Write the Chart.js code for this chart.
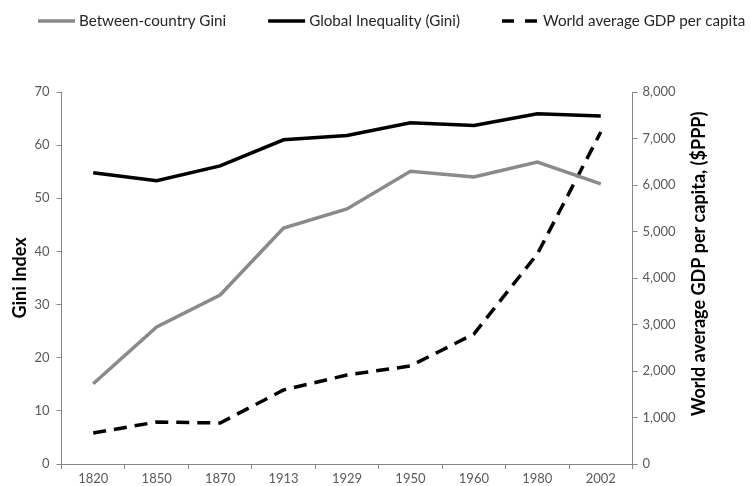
<!DOCTYPE html>
<html>
<head>
<meta charset="utf-8">
<script src="https://cdn.jsdelivr.net/npm/chart.js@4/dist/chart.umd.min.js"></script>
<style>
  html, body { margin: 0; padding: 0; background: #fff; }
</style>
</head>
<body>
<canvas id="chart" width="751" height="486"></canvas>
<script>
const years = ["1820", "1850", "1870", "1913", "1929", "1950", "1960", "1980", "2002"];
const betweenGini = [15.1, 25.8, 31.8, 44.4, 48.0, 55.1, 54.0, 56.8, 52.7];
const globalGini = [54.8, 53.3, 56.1, 61.0, 61.8, 64.2, 63.7, 65.9, 65.5];
const worldGdp = [667, 903, 882, 1591, 1914, 2108, 2796, 4516, 7140];

const axisColor = "#868686";
const textColor = "#595959";
const fontFamily = "Lato, 'Open Sans', sans-serif";
const rightTitle = "World average GDP per capita, ($PPP)";

// legend row on top, line samples like the spreadsheet one
const topLegend = {
  id: "topLegend",
  afterDraw(chart) {
    const ctx = chart.ctx;
    ctx.save();
    ctx.font = "15.2px " + fontFamily;
    ctx.textBaseline = "middle";
    let x = 38;
    const y = 21;
    chart.data.datasets.forEach((ds) => {
      ctx.beginPath();
      ctx.strokeStyle = ds.borderColor;
      ctx.lineWidth = ds.borderWidth;
      ctx.setLineDash(ds.borderDash ? [12, 11] : []);
      ctx.moveTo(x, y);
      ctx.lineTo(x + 37, y);
      ctx.stroke();
      ctx.setLineDash([]);
      ctx.fillStyle = "#262626";
      ctx.fillText(ds.label, x + 41, y);
      x += 41 + ctx.measureText(ds.label).width + 42;
    });
    ctx.restore();
  }
};

// right axis title reads bottom to top, like the left one
const rightAxisTitle = {
  id: "rightAxisTitle",
  afterDraw(chart) {
    const ctx = chart.ctx;
    const area = chart.chartArea;
    ctx.save();
    ctx.translate(chart.scales.y1.left + 67, (area.top + area.bottom) / 2 - 14);
    ctx.rotate(-Math.PI / 2);
    ctx.font = "bold 18px " + fontFamily;
    ctx.fillStyle = "#000";
    ctx.textAlign = "center";
    ctx.textBaseline = "middle";
    ctx.fillText(rightTitle, 0, 0);
    ctx.restore();
  }
};

new Chart(document.getElementById("chart"), {
  type: "line",
  data: {
    labels: years,
    datasets: [
      {
        label: "Between-country Gini",
        data: betweenGini,
        borderColor: "#8a8a8a",
        borderWidth: 3.5,
        pointRadius: 0,
        yAxisID: "y"
      },
      {
        label: "Global Inequality (Gini)",
        data: globalGini,
        borderColor: "#000000",
        borderWidth: 3.5,
        pointRadius: 0,
        yAxisID: "y"
      },
      {
        label: "World average GDP per capita",
        data: worldGdp,
        borderColor: "#000000",
        borderWidth: 3.5,
        borderDash: [13, 8],
        pointRadius: 0,
        yAxisID: "y1"
      }
    ]
  },
  options: {
    responsive: false,
    animation: false,
    layout: { padding: { left: 0, right: 0, top: 92, bottom: 0 } },
    plugins: {
      tooltip: { enabled: false },
      legend: { display: false }
    },
    scales: {
      x: {
        offset: true,
        afterFit: (s) => { s.height = 22; },
        grid: { offset: true, drawOnChartArea: false, tickLength: 5, color: axisColor },
        border: { color: axisColor, width: 1 },
        ticks: { color: textColor, font: { family: fontFamily, size: 13 }, padding: 2, maxRotation: 0 }
      },
      y: {
        position: "left",
        min: 0,
        max: 70,
        afterFit: (s) => { s.width = 61.5; },
        grid: { drawOnChartArea: false, tickLength: 5, color: axisColor },
        border: { color: axisColor, width: 1 },
        ticks: { stepSize: 10, color: textColor, font: { family: fontFamily, size: 13 }, padding: 7 },
        title: {
          display: true,
          text: "Gini Index",
          color: "#000",
          font: { family: fontFamily, size: 18, weight: "bold" },
          padding: { top: 9, bottom: 0 }
        }
      },
      y1: {
        position: "right",
        min: 0,
        max: 8000,
        afterFit: (s) => { s.width = 118.5; },
        grid: { drawOnChartArea: false, tickLength: 5, color: axisColor },
        border: { color: axisColor, width: 1 },
        ticks: {
          stepSize: 1000,
          color: textColor,
          font: { family: fontFamily, size: 13 },
          padding: 5,
          callback: (v) => v.toLocaleString("en-US")
        }
      }
    }
  },
  plugins: [topLegend, rightAxisTitle]
});
</script>
</body>
</html>
